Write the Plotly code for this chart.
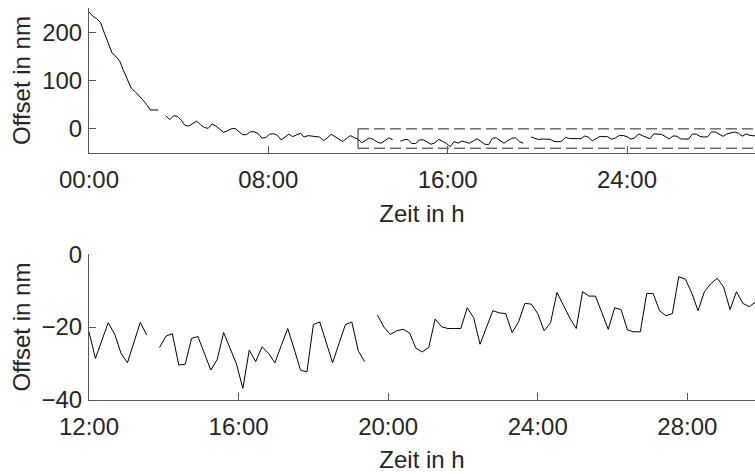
import plotly.graph_objects as go

# ---- data ----
SAMPLE_STEP_H = 12 / 70  # sampling interval in hours (~10.3 min)

offset_seg_a = [242, 233, 228, 220, 198, 176, 157, 150, 140, 120,
                100, 84, 77, 69, 60, 50, 39, 39, 39]
offset_seg_b = [27, 19, 27, 26, 18, 7, 6, 11, 16, 9,
                3, 1, 10, 6, -1, -7, -4, 0, 1, -5,
                -12, -12, -6, -6, -10, -19, -18, -11, -10, -13,
                -23, -17, -11, -16, -13, -9, -17, -14, -15, -16,
                -17, -24, -19, -11, -16, -21, -26, -20, -14, -18,
                -21.3, -28.6, -23.7, -18.8, -21.9, -27.2, -29.8, -24.0, -18.7, -22.2]
offset_seg_c = [-25.6, -22.5, -21.8, -30.4, -30.2, -23.1, -22.6, -27.2, -31.8, -28.9,
                -21.5, -25.8, -30.1, -36.8, -26.3, -29.5, -25.4, -27.2, -29.8, -25.0,
                -20.4, -26.0, -31.8, -32.3, -19.3, -18.6, -24.0, -29.8, -24.5, -19.3,
                -18.6, -26.5, -29.5]
offset_seg_d = [-16.7, -20.0, -22.0, -21.0, -20.6, -21.6, -25.8, -26.8, -25.6, -17.8,
                -19.9, -20.4, -20.4, -20.4, -14.7, -17.4, -24.7, -20.0, -15.5, -16.1,
                -16.3, -21.5, -18.6, -13.5, -13.7, -16.3, -21.0, -18.8, -10.5, -14.0,
                -17.5, -20.4, -10.3, -11.5, -11.5, -16.0, -20.6, -14.7, -15.2, -20.8,
                -21.3, -21.3, -10.8, -10.8, -15.5, -16.9, -16.3, -6.2, -6.8, -10.5,
                -15.5, -10.3, -8.1, -6.6, -9.0, -15.2, -10.3, -13.5, -14.4, -13.1]

# missing samples (None) separate the measurement segments
offset_nm = (offset_seg_a + [None] + offset_seg_b + [None]
             + offset_seg_c + [None] + offset_seg_d)
time_h = [i * SAMPLE_STEP_H for i in range(len(offset_nm))]

top_xticks = [0, 8, 16, 24]
top_xticklabels = ["00:00", "08:00", "16:00", "24:00"]
top_yticks = [0, 100, 200]
bot_xticks = [12, 16, 20, 24, 28]
bot_xticklabels = ["12:00", "16:00", "20:00", "24:00", "28:00"]
bot_yticks = [-40, -20, 0]

zoom_window_h = [12, 30]
zoom_window_nm = [-40, 0]

# ---- figure ----
FONT = dict(family="Liberation Sans, Arial, sans-serif", size=24, color="#262626")
AXIS_COLOR = "#5a5a5a"

fig = go.Figure()
line_style = dict(color="black", width=1)

fig.add_trace(go.Scatter(x=time_h, y=offset_nm, mode="lines", line=line_style,
                         connectgaps=False, xaxis="x", yaxis="y", showlegend=False))
# dashed zoom window in top plot
dash_style = dict(color="#262626", width=1, dash="11px,5px")
for level in zoom_window_nm:
    fig.add_trace(go.Scatter(x=zoom_window_h, y=[level, level], mode="lines",
                             line=dash_style, xaxis="x", yaxis="y", showlegend=False))
fig.add_trace(go.Scatter(x=[zoom_window_h[0], zoom_window_h[0]], y=zoom_window_nm,
                         mode="lines", line=dict(color="#262626", width=1),
                         xaxis="x", yaxis="y", showlegend=False))

fig.add_trace(go.Scatter(x=time_h, y=offset_nm, mode="lines", line=line_style,
                         connectgaps=False, xaxis="x2", yaxis="y2", showlegend=False))

common_axis = dict(showline=True, linecolor=AXIS_COLOR, linewidth=1, showgrid=False,
                   zeroline=False, ticks="inside", ticklen=7, tickwidth=1,
                   tickcolor=AXIS_COLOR, tickfont=FONT, mirror=False, automargin=False)

fig.update_layout(
    width=755, height=474, autosize=False,
    margin=dict(l=89, r=0, t=8, b=74, autoexpand=False),
    paper_bgcolor="white", plot_bgcolor="white",
    font=FONT,
    xaxis=dict(common_axis, domain=[0, 1], anchor="y", range=[0, 29.71],
               tickvals=top_xticks, ticktext=top_xticklabels, ticklabelstandoff=5,
               title=dict(text="Zeit in h", font=FONT, standoff=13)),
    yaxis=dict(common_axis, domain=[0.630, 1.0], anchor="x", range=[-50, 250],
               tickvals=top_yticks, ticklabelstandoff=1,
               title=dict(text="Offset in nm", font=FONT, standoff=4)),
    xaxis2=dict(common_axis, domain=[0, 1], anchor="y2", range=[12, 29.81],
                tickvals=bot_xticks, ticktext=bot_xticklabels, ticklabelstandoff=5,
                title=dict(text="Zeit in h", font=FONT, standoff=12)),
    yaxis2=dict(common_axis, domain=[0, 0.372], anchor="x2", range=[-40, 0],
                tickvals=bot_yticks, ticklabelstandoff=1,
                title=dict(text="Offset in nm", font=FONT, standoff=4)),
)

fig.write_html("out.html",
               config={"displayModeBar": False},
               post_script="document.body.style.margin='0';"
                           "document.documentElement.style.overflow='hidden';")
